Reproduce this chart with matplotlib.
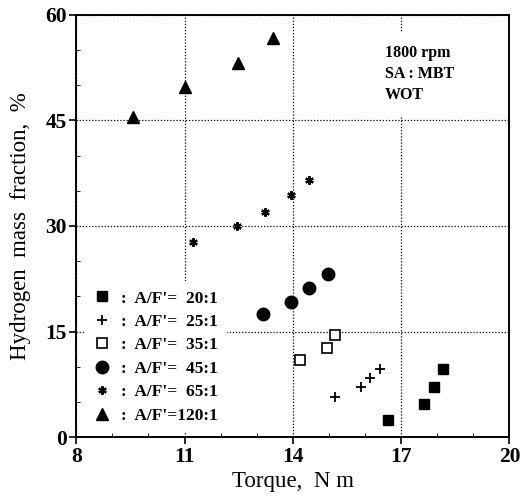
import numpy as np
import matplotlib
matplotlib.use("Agg")
import matplotlib.pyplot as plt
from matplotlib.ticker import MultipleLocator

plt.rcParams['font.family'] = ['Liberation Serif', 'DejaVu Serif']

# A/F' ratio series (torque N m, H2 mass fraction %)
af20_x = [16.64, 17.64, 17.90, 18.15]
af20_y = [2.4, 4.7, 7.15, 9.7]
af25_x = [15.16, 15.88, 16.14, 16.40]
af25_y = [5.7, 7.1, 8.4, 9.7]
af35_x = [14.19, 14.94, 15.17]
af35_y = [11.0, 12.65, 14.55]
af45_x = [13.18, 13.96, 14.46, 14.98]
af45_y = [17.45, 19.2, 21.2, 23.2]
af65_x = [11.22, 12.46, 13.22, 13.96, 14.46]
af65_y = [27.7, 30.0, 32.0, 34.45, 36.5]
af120_x = [9.56, 11.02, 12.48, 13.46]
af120_y = [45.5, 49.8, 53.2, 56.7]

labels = [":  A/F'=  20:1", ":  A/F'=  25:1", ":  A/F'=  35:1",
          ":  A/F'=  45:1", ":  A/F'=  65:1", ":  A/F'=120:1"]

xticks = [8, 11, 14, 17, 20]
yticks = [0, 15, 30, 45, 60]

fig = plt.figure(figsize=(5.24, 4.99), dpi=100)
ax = fig.add_axes([0.1456, 0.1242, 0.8267, 0.8458])

ax.plot(af20_x, af20_y, ls='none', marker='s', ms=6.5, color='k', label=labels[0])
ax.plot(af25_x, af25_y, ls='none', marker='+', ms=7, mew=1.3, color='k', label=labels[1])
ax.plot(af35_x, af35_y, ls='none', marker='s', ms=7, mfc='white', mec='k', mew=1.2, label=labels[2])
ax.plot(af45_x, af45_y, ls='none', marker='o', ms=9, color='k', label=labels[3])
ax.plot(af65_x, af65_y, ls='none', marker=(6, 2, 0), ms=6, mew=1.6, color='k', label=labels[4])
ax.plot(af120_x, af120_y, ls='none', marker='^', ms=9, color='k', label=labels[5])

ax.set_xlim(8, 20)
ax.set_ylim(0, 60)
ax.set_xticks(xticks)
ax.set_yticks(yticks)
ax.xaxis.set_minor_locator(MultipleLocator(1))
ax.yaxis.set_minor_locator(MultipleLocator(5))
ax.tick_params(which='major', direction='out', length=5, width=1.2, labelsize=15.5, pad=2)
ax.tick_params(which='minor', direction='in', length=3, width=0.6)
for lab in ax.get_xticklabels() + ax.get_yticklabels():
    lab.set_fontweight('bold')
for s in ax.spines.values():
    s.set_linewidth(1.4)

# dotted grid, hidden behind legend and note boxes
ax.grid(True, which='major', ls=(0, (1, 1.5)), lw=0.9, color='k')
ax.set_axisbelow(True)

ax.set_xlabel("Torque,  N m", fontsize=16.5, labelpad=3)
ax.set_ylabel("Hydrogen  mass  fraction,  %", fontsize=16.5, labelpad=10)

leg = ax.legend(loc='upper left', bbox_to_anchor=(0.018, 0.37), frameon=True,
                fancybox=False, framealpha=1, edgecolor='none', facecolor='white',
                prop={'size': 12.5, 'weight': 'bold'}, handlelength=1.0,
                handletextpad=0.55, labelspacing=0.42, borderpad=0.55,
                borderaxespad=0.0)

ax.text(0.713, 0.93, "1800 rpm\nSA : MBT\nWOT", transform=ax.transAxes,
        ha='left', va='top', fontsize=11.5, fontweight='bold', linespacing=1.45,
        bbox=dict(facecolor='white', edgecolor='none', pad=9))

fig.savefig("out.png", dpi=100)
